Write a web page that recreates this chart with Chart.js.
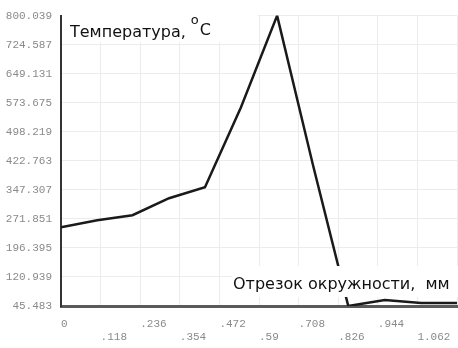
<!DOCTYPE html>
<html>
<head>
<meta charset="utf-8">
<script src="https://cdn.jsdelivr.net/npm/chart.js@4.4.1/dist/chart.umd.min.js"></script>
<style>
    html, body { margin: 0; padding: 0; background: #fff; }
    #grafico { display: block; }
</style>
</head>
<body>
<canvas id="grafico" width="458" height="348"></canvas>
<script>
// отрезок окружности, мм
var posicoes = [0, 0.108, 0.213, 0.322, 0.429, 0.536, 0.644, 0.751, 0.856, 0.965, 1.073, 1.18];
// температура, °C
var temperaturas = [250.3, 268.5, 281.4, 325.5, 354.1, 561.5, 800.039, 411.0, 45.483, 61.0, 53.0, 53.0];

var ticksY = [45.483, 120.939, 196.395, 271.851, 347.307, 422.763, 498.219, 573.675, 649.131, 724.587, 800.039];
var ticksX = [0, 0.118, 0.236, 0.354, 0.472, 0.59, 0.708, 0.826, 0.944, 1.062, 1.18];
var rotulosX = ['0', '.118', '.236', '.354', '.472', '.59', '.708', '.826', '.944', '1.062', ''];

var tituloY = 'Температура,';
var tituloX = 'Отрезок окружности,  мм';

var pontos = [];
for (let i = 0; i < posicoes.length; i++) {
    pontos.push({ x: posicoes[i], y: temperaturas[i] });
}

// caixas brancas com os títulos dos eixos
var titulos = {
    id: 'titulos',
    afterDatasetsDraw(chart) {
        var ctx = chart.ctx;
        var area = chart.chartArea;
        ctx.save();
        ctx.fillStyle = '#fff';
        ctx.fillRect(area.left + 1, 0, 196, 42);
        ctx.fillRect(232, 266, area.right - 232 + 1, 31);

        ctx.fillStyle = '#111';
        ctx.textBaseline = 'alphabetic';
        ctx.font = '16px "DejaVu Sans"';
        ctx.fillText(tituloY, 70, 37);
        var w = ctx.measureText(tituloY).width;
        ctx.font = '13px "DejaVu Sans"';
        ctx.fillText('o', 70 + w + 5, 24);
        ctx.font = '16px "DejaVu Sans"';
        ctx.fillText('C', 70 + w + 14, 35);

        ctx.fillText(tituloX, 233, 289);
        ctx.restore();
    }
};

var ctxGrafico = document.getElementById('grafico');

new Chart(ctxGrafico, {
    type: 'line',
    data: {
        datasets: [{
            data: pontos,
            borderColor: '#1a1a1a',
            borderWidth: 2.5,
            pointRadius: 0,
            tension: 0,
            fill: false
        }]
    },
    options: {
        responsive: false,
        animation: false,
        layout: { padding: { top: 15, right: 1, left: 0, bottom: 0 } },
        plugins: {
            legend: { display: false },
            tooltip: { enabled: false }
        },
        scales: {
            x: {
                type: 'linear',
                min: 0,
                max: 1.18,
                afterBuildTicks: (scale) => { scale.ticks = ticksX.map(v => ({ value: v })); },
                afterFit: (scale) => { scale.height = 42; scale.paddingLeft = 0; scale.paddingRight = 0; },
                grid: { color: '#ececec', lineWidth: 1, drawTicks: false },
                border: { color: '#5a5a5a', width: 3 },
                ticks: {
                    align: 'start',
                    maxRotation: 0,
                    autoSkip: false,
                    padding: 11,
                    color: '#8a8a8a',
                    font: { family: '"Liberation Mono"', size: 11 },
                    callback: function (valor, indice) {
                        var r = rotulosX[indice];
                        return indice % 2 === 1 ? ['', r] : r;
                    }
                }
            },
            y: {
                type: 'linear',
                min: 45.483,
                max: 800.039,
                afterBuildTicks: (scale) => { scale.ticks = ticksY.map(v => ({ value: v })); },
                afterFit: (scale) => { scale.width = 61; },
                grid: { color: '#ececec', lineWidth: 1, drawTicks: false },
                border: { color: '#333', width: 2 },
                ticks: {
                    padding: 9,
                    color: '#8a8a8a',
                    font: { family: '"Liberation Mono"', size: 11 },
                    callback: function (valor) { return valor.toFixed(3); }
                }
            }
        }
    },
    plugins: [titulos]
});
</script>
</body>
</html>
